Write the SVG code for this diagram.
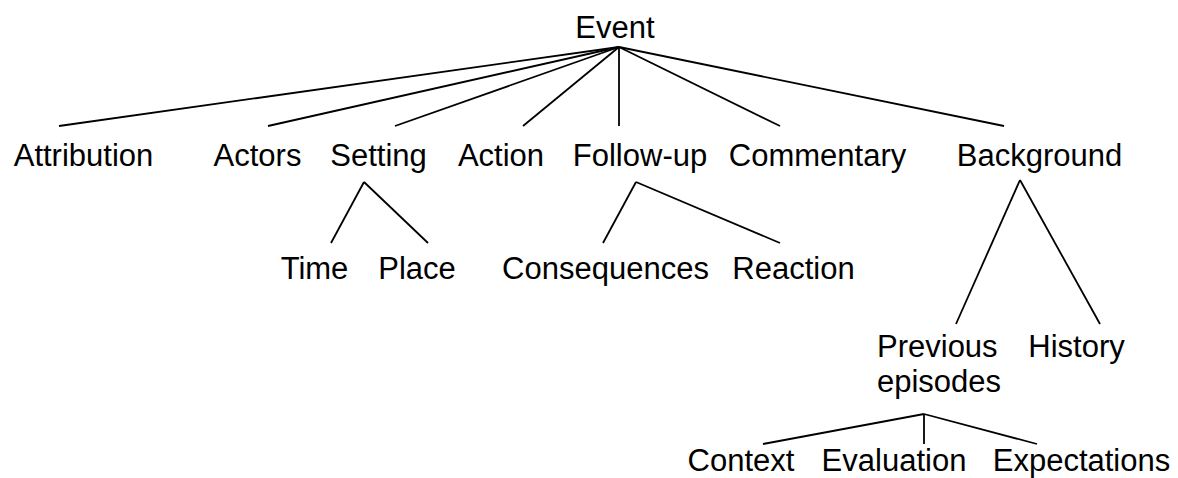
<svg xmlns="http://www.w3.org/2000/svg" width="1178" height="478" viewBox="0 0 1178 478">
  <style>
    .lbl { font-family: "Liberation Sans", Arial, Helvetica, sans-serif; font-size: 31px; fill: #000; text-anchor: middle; }
    .lbl-start { text-anchor: start; }
    .edge { stroke: #000; stroke-width: 1.8; fill: none; stroke-linecap: butt; }
  </style>
  <rect width="1178" height="478" fill="#fff"/>

  <!-- tree branches -->
  <g id="connectors">
    <!-- Event to its children -->
    <line class="edge" x1="619" y1="47" x2="59" y2="126"/>
    <line class="edge" x1="619" y1="47" x2="268" y2="126"/>
    <line class="edge" x1="619" y1="47" x2="395" y2="126"/>
    <line class="edge" x1="619" y1="47" x2="523" y2="126"/>
    <line class="edge" x1="619" y1="47" x2="619" y2="126"/>
    <line class="edge" x1="619" y1="47" x2="780" y2="126"/>
    <line class="edge" x1="619" y1="47" x2="1004" y2="126"/>
    <!-- Setting -->
    <line class="edge" x1="364" y1="182" x2="331" y2="243"/>
    <line class="edge" x1="364" y1="182" x2="428" y2="243"/>
    <!-- Follow-up -->
    <line class="edge" x1="636" y1="182" x2="603" y2="243"/>
    <line class="edge" x1="636" y1="182" x2="780" y2="243"/>
    <!-- Background -->
    <line class="edge" x1="1020" y1="180" x2="956" y2="324"/>
    <line class="edge" x1="1020" y1="180" x2="1100" y2="324"/>
    <!-- Previous episodes -->
    <line class="edge" x1="924" y1="414" x2="763" y2="444"/>
    <line class="edge" x1="924" y1="414" x2="924" y2="444"/>
    <line class="edge" x1="924" y1="414" x2="1037" y2="444"/>
  </g>

  <g id="event"><text class="lbl" x="615" y="37.5">Event</text></g>

  <g id="attribution"><text class="lbl" x="83.5" y="165.5">Attribution</text></g>
  <g id="actors"><text class="lbl" x="257.5" y="165.5">Actors</text></g>
  <g id="setting"><text class="lbl" x="378.5" y="165.5">Setting</text></g>
  <g id="action"><text class="lbl" x="501" y="165.5">Action</text></g>
  <g id="follow-up"><text class="lbl" x="640" y="165.5">Follow-up</text></g>
  <g id="commentary"><text class="lbl" x="817.5" y="165.5">Commentary</text></g>
  <g id="background"><text class="lbl" x="1039.5" y="165.5">Background</text></g>

  <g id="time"><text class="lbl" x="314.5" y="278.5">Time</text></g>
  <g id="place"><text class="lbl" x="417" y="278.5">Place</text></g>
  <g id="consequences"><text class="lbl" x="605.5" y="278.5">Consequences</text></g>
  <g id="reaction"><text class="lbl" x="793.5" y="278.5">Reaction</text></g>

  <g id="previous-episodes">
    <text class="lbl lbl-start" x="877" y="357">Previous</text>
    <text class="lbl lbl-start" x="877" y="392">episodes</text>
  </g>
  <g id="history"><text class="lbl" x="1076.5" y="357">History</text></g>

  <g id="context"><text class="lbl" x="741" y="471">Context</text></g>
  <g id="evaluation"><text class="lbl" x="894" y="471">Evaluation</text></g>
  <g id="expectations"><text class="lbl" x="1081.5" y="471">Expectations</text></g>
</svg>
